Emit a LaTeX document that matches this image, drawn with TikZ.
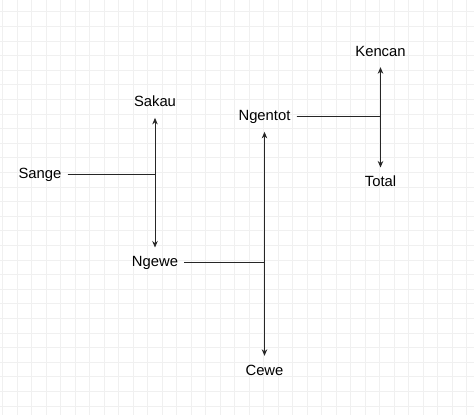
\documentclass[tikz,border=0pt]{standalone}
\usepackage{fontspec}
\setmainfont{Liberation Sans}
\usepackage{tikz}
\usetikzlibrary{arrows.meta}

\tikzset{
  word/.style={font=\fontsize{14.8}{17}\selectfont, text height=11pt, text depth=3pt, inner xsep=6pt, inner ysep=8pt},
  link/.style={draw=black!85, line width=0.8pt, -{Stealth[length=6.5pt,width=5.5pt]}},
  gridline/.style={draw=black!6, line width=0.5pt}
}

\begin{document}
\begin{tikzpicture}[x=1pt,y=-1pt]

        \useasboundingbox (0,0) rectangle (474,415);
        \fill[white] (0,0) rectangle (474,415);
        \foreach \gx in {0,...,32} \draw[gridline] (2.7+14.5*\gx,0) -- (2.7+14.5*\gx,415);
        \foreach \gy in {0,...,28} \draw[gridline] (0,11.7+14.6*\gy) -- (474,11.7+14.6*\gy);


        \node[word]         (sange)   at (40, 174)        {Sange};
        \node[word]         (sakau)   at (155, 102.7)     {Sakau};
        \node[word]         (ngewe)   at (155, 262.7)     {Ngewe};
        \node[word]         (ngentot) at (264.5, 116.7)   {Ngentot};
        \node[word]         (cewe)    at (264.5, 371)     {Cewe};
        \node[word]         (kencan)  at (380.5, 52)      {Kencan};
        \node[word]         (total)   at (380.5, 182.7)   {Total};


        \draw[link]  (sange) -| (sakau);
        \draw[link]  (sange) -| (ngewe);
        \draw[link]  (ngewe) -| (ngentot);
        \draw[link]  (ngewe) -| (cewe);
        \draw[link]  (ngentot) -| (kencan);
        \draw[link]  (ngentot) -| (total);
      \end{tikzpicture}
\end{document}
